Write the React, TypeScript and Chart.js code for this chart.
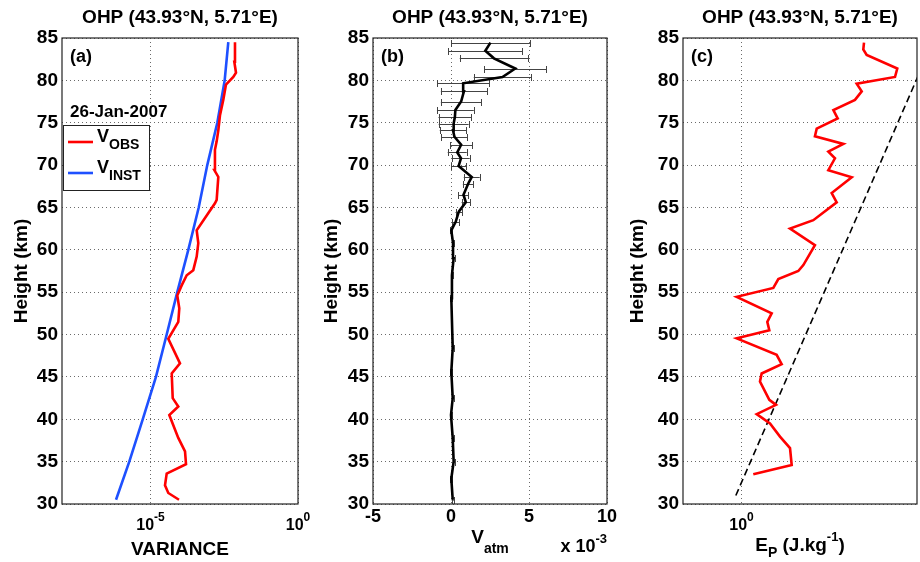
import React, { useEffect, useRef } from "react";
import { Chart, registerables } from "chart.js";

Chart.register(...registerables);

const W = 920;
const H = 562;
const FONT = '"Liberation Sans", Arial, Helvetica, sans-serif';
const TEXT = "#000";
const GRID = "#6a6a6a";
const FRAME = "#222";

const TITLE = "OHP (43.93°N, 5.71°E)";
const Y_TITLE = "Height (km)";
const DATE_LABEL = "26-Jan-2007";
const PANEL_LETTERS = ["(a)", "(b)", "(c)"];
const HEIGHT_MIN = 30;
const HEIGHT_MAX = 85;
const HEIGHT_STEP = 5;

// ---------- panel (a) ----------
const obsHeights = [30.5, 31.3, 32.2, 33.6, 34.7, 36.2, 37.8, 40.5, 41.5, 42.5, 45.4, 46.6, 49.5, 51.5, 53.1, 54.6, 55.8, 57.0, 57.6, 59.2, 60.8, 62.3, 65.5, 65.9, 68.6, 69.4, 71.8, 72.8, 74.1, 75.9, 77.7, 79.5, 80.4, 80.9, 82.2, 84.5];
const obsVariance = [9.25e-5, 4.01e-5, 3.1e-5, 3.54e-5, 1.6e-4, 1.48e-4, 8.75e-5, 4.34e-5, 8.75e-5, 5.66e-5, 5.24e-5, 1.0e-4, 4.01e-5, 8.75e-5, 9.46e-5, 8.09e-5, 1.14e-4, 1.69e-4, 2.82e-4, 3.68e-4, 4.17e-4, 3.68e-4, 1.53e-3, 1.75e-3, 1.99e-3, 1.46e-3, 1.53e-3, 1.75e-3, 1.99e-3, 2.27e-3, 2.94e-3, 3.62e-3, 6.41e-3, 7.91e-3, 6.93e-3, 7.31e-3];
const instHeights = [30.5, 35, 40, 45, 50, 55, 60, 65, 70, 75, 80, 84.5];
const instVariance = [6.78e-7, 1.91e-6, 5.45e-6, 1.53e-5, 3.54e-5, 8.09e-5, 1.91e-4, 4.31e-4, 8.41e-4, 1.84e-3, 3.27e-3, 4.34e-3];
const legendMain = "V";
const legendSubs = ["OBS", "INST"];
const varianceMin = 1e-8;
const varianceMax = 1;
const varianceTicks = [1e-5, 1];
const varianceTickExps = ["-5", "0"];
const X_TITLE_A = "VARIANCE";

// ---------- panel (b) ----------
const ATM_SCALE = 1e-3;
const atmHeights = [30.5, 33, 35, 37.8, 40.5, 42.5, 45.6, 48.4, 54.3, 57, 59, 60.8, 62.3, 63.3, 64.5, 65.6, 66.5, 67.8, 68.6, 69.9, 70.8, 71.5, 72.4, 73.35, 74.1, 74.9, 75.7, 76.5, 77.5, 78.7, 79.65, 80.4, 81.4, 82.6, 83.5, 84.45];
const atmValuesE3 = [0.11, 0.02, 0.17, 0.11, 0.0, 0.11, 0.02, 0.11, 0.02, 0.06, 0.17, 0.13, 0.02, 0.3, 0.5, 0.95, 0.8, 1.1, 1.33, 0.49, 0.64, 0.4, 0.65, 0.22, 0.13, 0.17, 0.25, 0.28, 0.65, 0.83, 0.78, 3.3, 4.12, 2.75, 2.2, 2.53];
const atmErrorsE3 = [0.06, 0.06, 0.06, 0.06, 0.06, 0.06, 0.06, 0.06, 0.06, 0.06, 0.06, 0.06, 0.06, 0.21, 0.21, 0.27, 0.32, 0.34, 0.51, 0.47, 0.56, 0.61, 0.7, 0.83, 0.85, 0.96, 1.05, 1.18, 1.3, 1.48, 1.66, 1.84, 1.98, 2.19, 2.37, 2.53];
const atmMinE3 = -5;
const atmMaxE3 = 10;
const atmStepE3 = 5;
const X_TITLE_B_MAIN = "V";
const X_TITLE_B_SUB = "atm";
const MULT_B_MAIN = "x 10";
const MULT_B_EXP = "-3";

// ---------- panel (c) ----------
const epHeights = [33.5, 34.6, 36.6, 37.95, 39.5, 40.6, 41.7, 42.3, 44.45, 45.4, 46.5, 47.6, 49.55, 50.5, 51.5, 52.5, 54.45, 55.5, 56.55, 57.5, 58.2, 60.55, 62.5, 63.5, 65.6, 66.7, 68.55, 69.4, 70.8, 71.6, 72.5, 73.4, 74.3, 75.5, 76.5, 77.7, 78.7, 79.6, 80.4, 81.4, 83.0, 83.65, 84.45];
const epValues = [1.59, 7.21, 6.75, 4.55, 3.07, 1.82, 3.89, 2.99, 2.07, 2.21, 4.86, 3.99, 0.828, 2.99, 2.76, 3.28, 0.828, 3.5, 4.26, 9.35, 11.4, 18.0, 6.75, 16.9, 42.4, 34.8, 76.6, 30.5, 39.6, 30.5, 55.1, 18.0, 19.3, 44.1, 37.2, 87.1, 113.5, 93.1, 420.7, 460.3, 138, 120.8, 124.2];
const refHeights = [31, 85];
const refValues = [0.8, 2000];
const epMin = 0.1;
const epMax = 1000;
const epTicks = [1];
const epTickExps = ["0"];

type Seg = { t: string; size: number; dy: number };

function drawRich(ctx: CanvasRenderingContext2D, segs: Seg[], x: number, y: number, align: "left" | "center" | "right") {
  ctx.save();
  ctx.textBaseline = "alphabetic";
  ctx.textAlign = "left";
  ctx.fillStyle = TEXT;
  let total = 0;
  const ws = segs.map((s) => {
    ctx.font = `bold ${s.size}px ${FONT}`;
    const w = ctx.measureText(s.t).width;
    total += w;
    return w;
  });
  let cx = align === "center" ? x - total / 2 : align === "right" ? x - total : x;
  segs.forEach((s, i) => {
    ctx.font = `bold ${s.size}px ${FONT}`;
    ctx.fillText(s.t, cx, y + s.dy);
    cx += ws[i];
  });
  ctx.restore();
}

const PANELS = [
  { left: 62, right: 298, top: 38, bottom: 504, yTitleX: 27 },
  { left: 373, right: 607, top: 38, bottom: 504, yTitleX: 337 },
  { left: 683, right: 917, top: 38, bottom: 504, yTitleX: 643 },
];
const Y_AXIS_W = 40;
const X_AXIS_H = 30;

function commonDecor(chart: any, idx: number) {
  const ctx: CanvasRenderingContext2D = chart.ctx;
  const ca = chart.chartArea;
  const cxm = (ca.left + ca.right) / 2;
  ctx.save();
  // frame
  ctx.strokeStyle = FRAME;
  ctx.lineWidth = 1.2;
  ctx.strokeRect(ca.left, ca.top, ca.right - ca.left, ca.bottom - ca.top);
  // title
  drawRich(ctx, [{ t: TITLE, size: 19, dy: 0 }], cxm, 23, "center");
  // panel letter
  drawRich(ctx, [{ t: PANEL_LETTERS[idx], size: 18, dy: 0 }], ca.left + 8, 62, "left");
  // y title
  ctx.save();
  ctx.translate(PANELS[idx].yTitleX, (ca.top + ca.bottom) / 2);
  ctx.rotate(-Math.PI / 2);
  ctx.fillStyle = TEXT;
  ctx.font = `bold 19px ${FONT}`;
  ctx.textAlign = "center";
  ctx.textBaseline = "alphabetic";
  ctx.fillText(Y_TITLE, 0, 0);
  ctx.restore();
  ctx.restore();
}

function logTickLabels(chart: any, values: number[], exps: string[]) {
  const ctx = chart.ctx;
  const xs = chart.scales.x;
  values.forEach((v, i) => {
    const px = xs.getPixelForValue(v);
    drawRich(ctx, [{ t: "10", size: 16, dy: 0 }, { t: exps[i], size: 12, dy: -9 }], px, 530, "center");
  });
}

function yScale() {
  return {
    type: "linear",
    min: HEIGHT_MIN,
    max: HEIGHT_MAX,
    ticks: { stepSize: HEIGHT_STEP, color: TEXT, padding: 4, font: { family: FONT, size: 19, weight: "bold" } },
    grid: { color: GRID, lineWidth: 1, drawTicks: false },
    border: { display: false, dash: [1, 3] },
    afterFit: (s: any) => {
      s.width = Y_AXIS_W;
    },
  };
}

function baseOptions(idx: number, x: any) {
  const p = PANELS[idx];
  return {
    responsive: false,
    animation: false,
    devicePixelRatio: 1,
    events: [],
    layout: { padding: { left: p.left - Y_AXIS_W, right: W - p.right, top: p.top, bottom: H - p.bottom - X_AXIS_H } },
    plugins: { legend: { display: false }, title: { display: false }, tooltip: { enabled: false } },
    elements: { point: { radius: 0 }, line: { tension: 0 } },
    scales: { x, y: yScale() },
  };
}

function configA(): any {
  const x = {
    type: "logarithmic",
    min: varianceMin,
    max: varianceMax,
    afterBuildTicks: (s: any) => {
      s.ticks = varianceTicks.map((v) => ({ value: v }));
    },
    ticks: { display: false },
    grid: { color: GRID, lineWidth: 1, drawTicks: false },
    border: { display: false, dash: [1, 3] },
    afterFit: (s: any) => {
      s.height = X_AXIS_H;
    },
  };
  const colors = ["#ff0000", "#1e50ff"];
  return {
    type: "line",
    data: {
      datasets: [
        { label: legendMain + legendSubs[0], data: obsHeights.map((h, i) => ({ x: obsVariance[i], y: h })), borderColor: colors[0], borderWidth: 2.6, fill: false },
        { label: legendMain + legendSubs[1], data: instHeights.map((h, i) => ({ x: instVariance[i], y: h })), borderColor: colors[1], borderWidth: 2.6, fill: false },
      ],
    },
    options: baseOptions(0, x),
    plugins: [
      {
        id: "decorA",
        afterDraw: (chart: any) => {
          const ctx: CanvasRenderingContext2D = chart.ctx;
          const ca = chart.chartArea;
          commonDecor(chart, 0);
          logTickLabels(chart, varianceTicks, varianceTickExps);
          drawRich(ctx, [{ t: X_TITLE_A, size: 19, dy: 0 }], (ca.left + ca.right) / 2, 555, "center");
          // date
          drawRich(ctx, [{ t: DATE_LABEL, size: 17, dy: 0 }], ca.left + 8, 117, "left");
          // legend
          ctx.save();
          const bx = ca.left + 1, by = 125, bw = 86, bh = 65;
          ctx.fillStyle = "#fff";
          ctx.fillRect(bx, by, bw, bh);
          ctx.strokeStyle = FRAME;
          ctx.lineWidth = 1;
          ctx.strokeRect(bx + 0.5, by + 0.5, bw, bh);
          const rows = [142, 173];
          legendSubs.forEach((sub, i) => {
            ctx.strokeStyle = chart.data.datasets[i].borderColor;
            ctx.lineWidth = 2.6;
            ctx.beginPath();
            ctx.moveTo(bx + 5, rows[i]);
            ctx.lineTo(bx + 30, rows[i]);
            ctx.stroke();
            drawRich(ctx, [{ t: legendMain, size: 18, dy: 0 }, { t: sub, size: 14, dy: 7 }], bx + 34, rows[i], "left");
          });
          ctx.restore();
        },
      },
    ],
  };
}

function configB(): any {
  const x = {
    type: "linear",
    min: atmMinE3 * ATM_SCALE,
    max: atmMaxE3 * ATM_SCALE,
    ticks: {
      stepSize: atmStepE3 * ATM_SCALE,
      color: TEXT,
      padding: 2,
      font: { family: FONT, size: 18, weight: "bold" },
      callback: (v: number) => String(Math.round(v / ATM_SCALE)),
    },
    grid: { color: GRID, lineWidth: 1, drawTicks: false },
    border: { display: false, dash: [1, 3] },
    afterFit: (s: any) => {
      s.height = X_AXIS_H;
    },
  };
  return {
    type: "line",
    data: {
      datasets: [
        { label: "Vatm", data: atmHeights.map((h, i) => ({ x: atmValuesE3[i] * ATM_SCALE, y: h })), borderColor: "#000", borderWidth: 2.6, fill: false },
      ],
    },
    options: baseOptions(1, x),
    plugins: [
      {
        id: "errorBars",
        beforeDatasetsDraw: (chart: any) => {
          const ctx: CanvasRenderingContext2D = chart.ctx;
          const xs = chart.scales.x;
          const ys = chart.scales.y;
          ctx.save();
          ctx.strokeStyle = "#444";
          ctx.lineWidth = 1;
          atmHeights.forEach((h, i) => {
            const e = atmErrorsE3[i];
            if (!e) return;
            const xl = xs.getPixelForValue((atmValuesE3[i] - e) * ATM_SCALE);
            const xr = xs.getPixelForValue((atmValuesE3[i] + e) * ATM_SCALE);
            const y = Math.round(ys.getPixelForValue(h)) + 0.5;
            ctx.beginPath();
            ctx.moveTo(xl, y);
            ctx.lineTo(xr, y);
            ctx.moveTo(Math.round(xl) + 0.5, y - 3.5);
            ctx.lineTo(Math.round(xl) + 0.5, y + 3.5);
            ctx.moveTo(Math.round(xr) + 0.5, y - 3.5);
            ctx.lineTo(Math.round(xr) + 0.5, y + 3.5);
            ctx.stroke();
          });
          ctx.restore();
        },
      },
      {
        id: "decorB",
        afterDraw: (chart: any) => {
          const ctx: CanvasRenderingContext2D = chart.ctx;
          const ca = chart.chartArea;
          commonDecor(chart, 1);
          drawRich(ctx, [{ t: X_TITLE_B_MAIN, size: 19, dy: 0 }, { t: X_TITLE_B_SUB, size: 14, dy: 10 }], (ca.left + ca.right) / 2, 543, "center");
          drawRich(ctx, [{ t: MULT_B_MAIN, size: 18, dy: 0 }, { t: MULT_B_EXP, size: 13, dy: -9 }], ca.right, 552, "right");
        },
      },
    ],
  };
}

function configC(): any {
  const x = {
    type: "logarithmic",
    min: epMin,
    max: epMax,
    afterBuildTicks: (s: any) => {
      s.ticks = epTicks.map((v) => ({ value: v }));
    },
    ticks: { display: false },
    grid: { color: GRID, lineWidth: 1, drawTicks: false },
    border: { display: false, dash: [1, 3] },
    afterFit: (s: any) => {
      s.height = X_AXIS_H;
    },
  };
  return {
    type: "line",
    data: {
      datasets: [
        { label: "Ep", data: epHeights.map((h, i) => ({ x: epValues[i], y: h })), borderColor: "#ff0000", borderWidth: 2.6, fill: false },
        { label: "Ep ref", data: refHeights.map((h, i) => ({ x: refValues[i], y: h })), borderColor: "#000", borderWidth: 1.6, borderDash: [7, 4], fill: false },
      ],
    },
    options: baseOptions(2, x),
    plugins: [
      {
        id: "decorC",
        afterDraw: (chart: any) => {
          const ctx: CanvasRenderingContext2D = chart.ctx;
          const ca = chart.chartArea;
          commonDecor(chart, 2);
          logTickLabels(chart, epTicks, epTickExps);
          drawRich(
            ctx,
            [
              { t: "E", size: 19, dy: 0 },
              { t: "P", size: 14, dy: 6 },
              { t: " (J.kg", size: 19, dy: 0 },
              { t: "-1", size: 13, dy: -10 },
              { t: ")", size: 19, dy: 0 },
            ],
            (ca.left + ca.right) / 2,
            551,
            "center"
          );
        },
      },
    ],
  };
}

export default function App() {
  const refA = useRef<HTMLCanvasElement>(null);
  const refB = useRef<HTMLCanvasElement>(null);
  const refC = useRef<HTMLCanvasElement>(null);
  useEffect(() => {
    const charts = [new Chart(refA.current!, configA()), new Chart(refB.current!, configB()), new Chart(refC.current!, configC())];
    return () => charts.forEach((c) => c.destroy());
  }, []);
  return (
    <div style={{ position: "absolute", left: 0, top: 0, width: W, height: H, background: "#fff", overflow: "hidden" }}>
      {[refA, refB, refC].map((r, i) => (
        <canvas key={i} ref={r} width={W} height={H} style={{ position: "absolute", left: 0, top: 0, width: W, height: H }} />
      ))}
    </div>
  );
}
